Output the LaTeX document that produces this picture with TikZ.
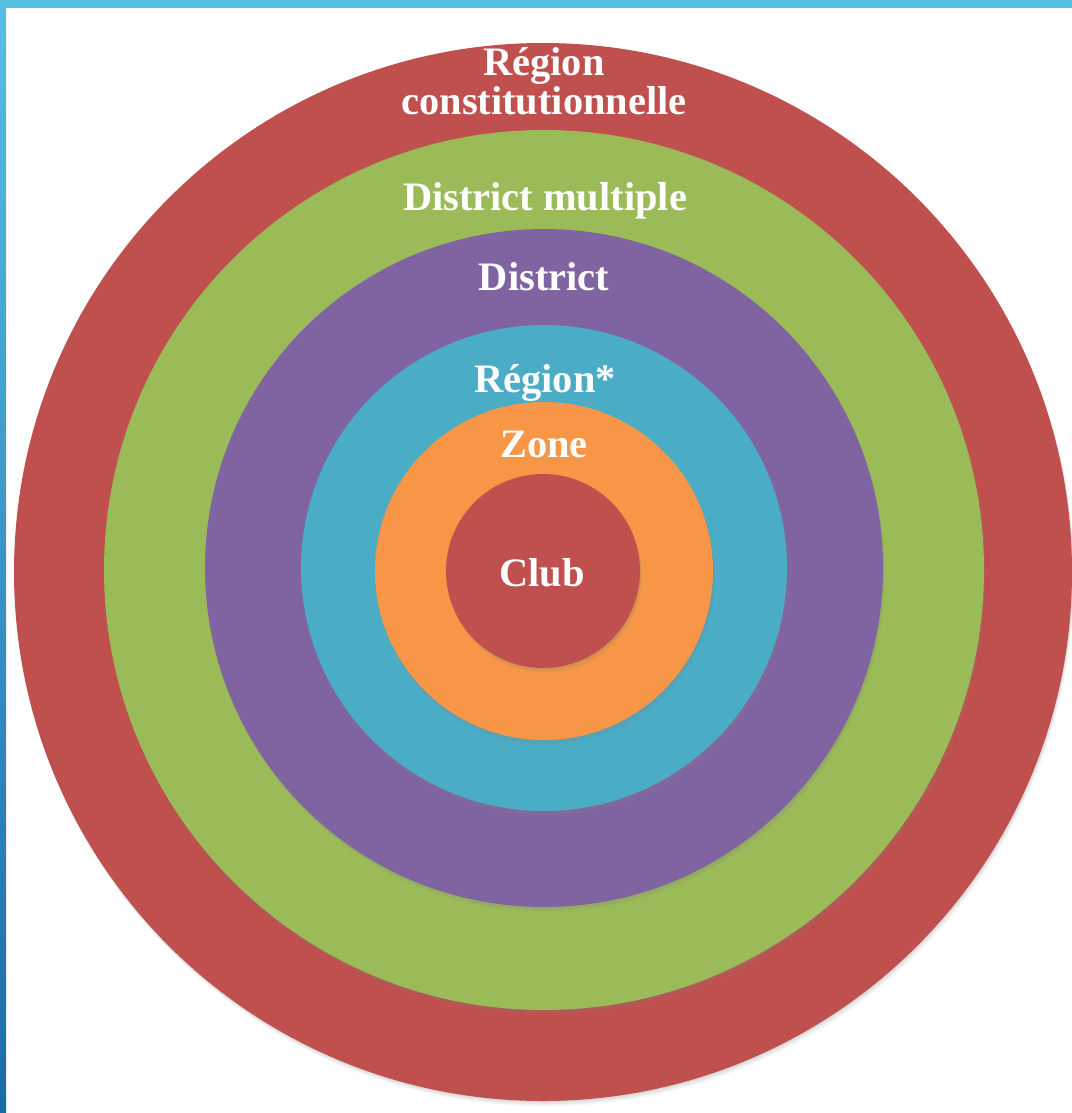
\documentclass[tikz,border=0pt]{standalone}
\usepackage{fontspec}
\setmainfont{Liberation Serif}
\usetikzlibrary{shadows}
\definecolor{ringred}{HTML}{C0504D}
\definecolor{ringgreen}{HTML}{9BBB59}
\definecolor{ringpurple}{HTML}{8064A2}
\definecolor{ringblue}{HTML}{4BACC6}
\definecolor{ringorange}{HTML}{F79646}
\definecolor{barlight}{HTML}{55C1E0}
\definecolor{bardark}{HTML}{1A6CA0}
\tikzset{
	every node/.style={anchor=base,align=center,outer sep=1.5pt},
	ring/.style={fill=#1,
		drop shadow={shadow xshift=0.4pt,shadow yshift=-1pt,opacity=0.12},
		drop shadow={shadow xshift=0.8pt,shadow yshift=-2pt,opacity=0.1},
		drop shadow={shadow xshift=1.2pt,shadow yshift=-3pt,opacity=0.08}},
	lbl/.style={text=white,font=\bfseries\fontsize{23}{21}\selectfont},
}

\begin{document}
\begin{tikzpicture}[x=0.02cm,y=-0.02cm]
	\useasboundingbox (0,0) rectangle (1072,1113);
	
	%frame.....................
	\fill [barlight] (0,0) rectangle (1072,8);
	\shade [top color=barlight,bottom color=bardark] (0,0) rectangle (6,1113);
	
	% outer ring...................
	\fill [ring=ringred] (543,572) circle [radius=529];
	\fill [ring=ringgreen] (544,570) circle [radius=440];
	\fill [ring=ringpurple] (544,568) circle [radius=339];
	\fill [ring=ringblue] (544,568) circle [radius=243];
	\fill [ring=ringorange] (544,571) circle [radius=169];
	
	% centre....................
	\fill [ring=ringred] (543,571) circle [radius=97];
	
	% labels......................
	\node [lbl] (regcons) at (544,114) {Région\\constitutionnelle};
	\node [lbl] (multi) at (545,210) {District multiple};
	\node [lbl] (dist) at (544,290) {District};
	\node [lbl] (reg) at (545,392) {Région*};
	\node [lbl] (zone) at (544,457) {Zone};
	\node [lbl] (club) at (542,586) {Club};
	
\end{tikzpicture}
\end{document}
